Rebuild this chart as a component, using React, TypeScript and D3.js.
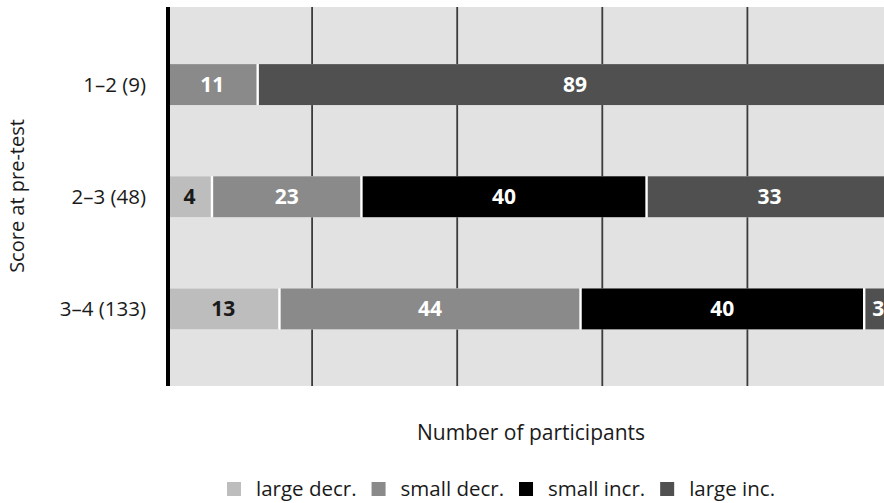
import * as d3 from 'd3'
import { useEffect, useRef } from 'react'

const categories = ['1–2 (9)', '2–3 (48)', '3–4 (133)']
const seriesNames = ['large decr.', 'small decr.', 'small incr.', 'large inc.']
const seriesColors = ['#bdbdbd', '#8a8a8a', '#000000', '#505050']
const labelColors = ['#1a1a1a', '#ffffff', '#ffffff', '#ffffff']

// segment lengths as drawn (share of participants, %), one per category
const largeDecr = [0, 6.2, 15.5]
const smallDecr = [12.5, 20.6, 41.5]
const smallIncr = [0, 39.3, 39.1]
const largeInc = [87.5, 33.9, 3.9]

// numbers printed on the segments
const largeDecrText = [null, 4, 13]
const smallDecrText = [11, 23, 44]
const smallIncrText = [null, 40, 40]
const largeIncText = [89, 33, 3]

const gridTicks = [20, 40, 60, 80, 100]

const W = 884
const H = 503
const FONT = '"Open Sans", sans-serif'

export default function App() {
    const svgRef = useRef(null) as any

    useEffect(() => {
        const series = [largeDecr, smallDecr, smallIncr, largeInc]
        const texts = [largeDecrText, smallDecrText, smallIncrText, largeIncText]

        const svg = d3.select(svgRef.current)
        svg.selectAll('*').remove()

        const top = 7
        const bottom = 386
        const x = d3.scaleLinear().domain([0, 100]).range([167, 892.5])
        const y = d3.scaleBand<string>()
            .domain(categories)
            .range([28.5, 365])
            .paddingInner(0.635)
            .paddingOuter(0.3175)

        // plot background
        svg.append('rect')
            .attr('x', x(0)).attr('y', top)
            .attr('width', W - x(0)).attr('height', bottom - top)
            .attr('fill', '#e2e2e2')

        // vertical grid
        svg.append('g').selectAll('line')
            .data(gridTicks)
            .join('line')
            .attr('x1', d => x(d)).attr('x2', d => x(d))
            .attr('y1', top).attr('y2', bottom)
            .attr('stroke', '#3c3c3c')
            .attr('stroke-width', 1.8)

        // stacked bars
        const rows = categories.map((c, i) => {
            let acc = 0
            return series.map((s, k) => {
                const seg = { cat: c, k, x0: acc, x1: acc + s[i], text: texts[k][i] }
                acc += s[i]
                return seg
            }).filter(seg => seg.x1 > seg.x0)
        })

        const bars = svg.append('g')
        rows.forEach(row => {
            const g = bars.append('g')
            g.append('rect')
                .attr('x', x(0)).attr('y', y(row[0].cat)!)
                .attr('width', x(100) - x(0)).attr('height', y.bandwidth())
                .attr('fill', '#ffffff')
            g.selectAll('rect.seg')
                .data(row)
                .join('rect')
                .attr('class', 'seg')
                .attr('x', d => x(d.x0) + (d.x0 > 0 ? 1.2 : 0))
                .attr('y', d => y(d.cat)!)
                .attr('width', d => x(d.x1) - x(d.x0) - (d.x0 > 0 ? 1.2 : 0) - 1.2)
                .attr('height', y.bandwidth())
                .attr('fill', d => seriesColors[d.k])
            g.selectAll('text')
                .data(row.filter(d => d.text !== null))
                .join('text')
                .attr('x', d => x((d.x0 + d.x1) / 2))
                .attr('y', d => y(d.cat)! + y.bandwidth() / 2)
                .attr('dy', '0.36em')
                .attr('text-anchor', 'middle')
                .attr('font-family', FONT)
                .attr('font-weight', 'bold')
                .attr('font-size', 21)
                .attr('fill', d => labelColors[d.k])
                .text(d => String(d.text))
        })

        // left axis line
        svg.append('line')
            .attr('x1', 168).attr('x2', 168)
            .attr('y1', top).attr('y2', bottom)
            .attr('stroke', '#000')
            .attr('stroke-width', 4)

        // category labels
        svg.append('g').selectAll('text')
            .data(categories)
            .join('text')
            .attr('x', 146)
            .attr('y', d => y(d)! + y.bandwidth() / 2)
            .attr('dy', '0.36em')
            .attr('text-anchor', 'end')
            .attr('font-family', FONT)
            .attr('font-size', 20.5)
            .attr('fill', '#1a1a1a')
            .text(d => d)

        // axis titles
        svg.append('text')
            .attr('transform', 'translate(24,196) rotate(-90)')
            .attr('text-anchor', 'middle')
            .attr('font-family', FONT)
            .attr('font-size', 20)
            .attr('fill', '#1a1a1a')
            .text('Score at pre-test')

        svg.append('text')
            .attr('x', 531).attr('y', 440)
            .attr('text-anchor', 'middle')
            .attr('font-family', FONT)
            .attr('font-size', 21)
            .attr('fill', '#1a1a1a')
            .text('Number of participants')

        // legend
        const legend = svg.append('g')
        let lx = 227
        seriesNames.forEach((name, k) => {
            legend.append('rect')
                .attr('x', lx).attr('y', 482)
                .attr('width', 14).attr('height', 14)
                .attr('fill', seriesColors[k])
            const t = legend.append('text')
                .attr('x', lx + 29).attr('y', 496)
                .attr('font-family', FONT)
                .attr('font-size', 20.5)
                .attr('fill', '#1a1a1a')
                .text(name)
            const tw = (t.node() as SVGTextElement).getComputedTextLength()
            lx += 29 + tw + 15
        })
    }, [])

    return (
        <svg ref={svgRef} width={W} height={H}
            style={{ position: 'absolute', left: 0, top: 0, background: '#fff' }} />
    )
}
